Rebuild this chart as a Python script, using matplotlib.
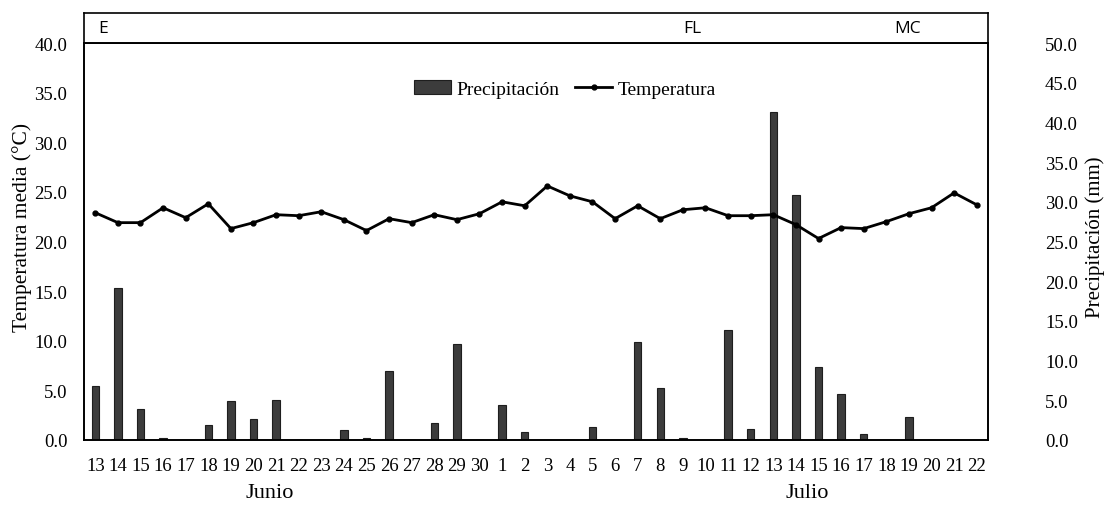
import numpy as np
import matplotlib
matplotlib.use("Agg")
import matplotlib.pyplot as plt

plt.rcParams["font.family"] = ["Liberation Serif", "DejaVu Serif"]

# Days: 13-30 June, 1-22 July
dias_junio = [str(d) for d in range(13, 31)]
dias_julio = [str(d) for d in range(1, 23)]
dias = dias_junio + dias_julio

# Daily precipitation (mm)
precipitacion = [6.8, 19.1, 3.9, 0.2, 0.0, 1.9, 4.9, 2.6, 5.0, 0.0,
                 0.0, 1.2, 0.2, 8.7, 0.0, 2.2, 12.1, 0.0,
                 4.4, 1.0, 0.0, 0.0, 1.6, 0.0, 12.3, 6.5, 0.2, 0.0,
                 13.8, 1.4, 41.3, 30.9, 9.2, 5.8, 0.7, 0.0, 2.9, 0.0, 0.0, 0.0]

# Mean daily temperature (°C)
temperatura = [22.9, 21.9, 21.9, 23.4, 22.4, 23.8, 21.3, 21.9, 22.7, 22.6,
               23.0, 22.2, 21.1, 22.3, 21.9, 22.7, 22.2, 22.8,
               24.0, 23.6, 25.6, 24.6, 24.0, 22.3, 23.6, 22.3, 23.2, 23.4,
               22.6, 22.6, 22.7, 21.7, 20.3, 21.4, 21.3, 22.0, 22.8, 23.4, 24.9, 23.7]

etapas = ["E", "FL", "MC"]
meses = ["Junio", "Julio"]

x = np.arange(len(dias))

fig = plt.figure(figsize=(11.08, 5.06), dpi=100)
ax = fig.add_axes([0.0758, 0.1285, 0.8159, 0.7845])
ax2 = ax.twinx()

# bars on right axis, line on left axis (drawn on top)
bars = ax2.bar(x, precipitacion, width=0.32, color="#3c3c3c", edgecolor="#1e1e1e",
               linewidth=0.8, label="Precipitación")
line, = ax.plot(x, temperatura, color="black", linewidth=2, marker="o",
                markersize=3.5, label="Temperatura")
ax.set_zorder(ax2.get_zorder() + 1)
ax.patch.set_visible(False)

ax.set_xlim(-0.5, len(dias) - 0.5)
ax.set_ylim(0, 40)
ax2.set_ylim(0, 50)
ax.set_yticks(np.arange(0, 40.1, 5))
ax2.set_yticks(np.arange(0, 50.1, 5))
ax.set_yticklabels([f"{v:.1f}" for v in np.arange(0, 40.1, 5)])
ax2.set_yticklabels([f"{v:.1f}" for v in np.arange(0, 50.1, 5)])
ax.set_xticks(x)
ax.set_xticklabels(dias)

ax.tick_params(axis="y", length=0, pad=12, labelsize=13.5)
ax2.tick_params(axis="y", length=0, pad=41, labelsize=13.5)
ax.tick_params(axis="x", length=0, pad=12, labelsize=13.5)

for a in (ax, ax2):
    for s in a.spines.values():
        s.set_linewidth(1.2)

ax.set_ylabel("Temperatura media (°C)", fontsize=15.5)
ax.yaxis.set_label_coords(-0.0575, 0.538)
ax2.set_ylabel("Precipitación (mm)", fontsize=15, rotation=90)
ax2.yaxis.set_label_coords(1.1075, 0.512)

# month labels under the day ticks
trans = matplotlib.transforms.blended_transform_factory(ax.transData, fig.transFigure)
ax.text(7.7, 0.024, meses[0], transform=trans, ha="center", va="center", fontsize=16)
ax.text(31.5, 0.024, meses[1], transform=trans, ha="center", va="center", fontsize=16)

ax.legend([bars, line], ["Precipitación", "Temperatura"], loc="center",
          bbox_to_anchor=(0.532, 0.884), ncol=2, frameon=False, fontsize=14,
          handlelength=1.9, columnspacing=0.8, handletextpad=0.3)

# top strip with phenological stages
strip = fig.add_axes([0.0758, 0.913, 0.8159, 0.0593])
strip.set_xlim(ax.get_xlim())
strip.set_ylim(0, 1)
strip.set_xticks([])
strip.set_yticks([])
for s in strip.spines.values():
    s.set_linewidth(1.2)
strip.text(0.12, 0.5, etapas[0], ha="left", va="center", fontsize=12.5, family="Open Sans")
strip.text(26.4, 0.5, etapas[1], ha="center", va="center", fontsize=12.5, family="Open Sans")
strip.text(35.96, 0.5, etapas[2], ha="center", va="center", fontsize=12.5, family="Open Sans")

fig.savefig("out.png", dpi=100)
